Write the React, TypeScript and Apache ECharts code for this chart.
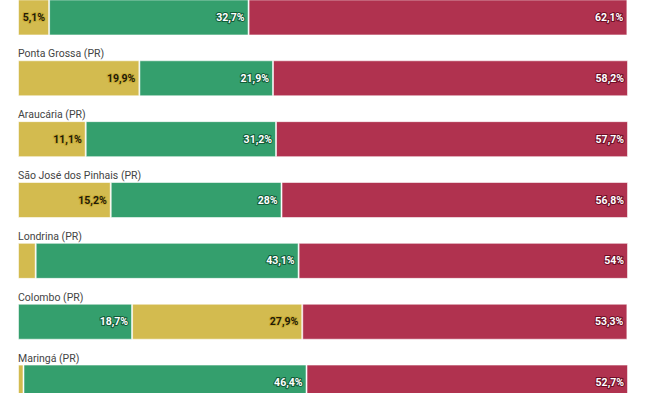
import React, { useEffect, useRef } from "react";
import * as echarts from "echarts";

const categories = [
  "",
  "Ponta Grossa (PR)",
  "Araucária (PR)",
  "São José dos Pinhais (PR)",
  "Londrina (PR)",
  "Colombo (PR)",
  "Maringá (PR)",
];

// segments in stacking order (left to right), with the colour group of each segment
const firstValues = [5.1, 19.9, 11.1, 15.2, 2.9, 18.7, 0.9];
const firstGroups = ["Y", "Y", "Y", "Y", "Y", "G", "Y"];
const secondValues = [32.7, 21.9, 31.2, 28, 43.1, 27.9, 46.4];
const secondGroups = ["G", "G", "G", "G", "G", "Y", "G"];
const thirdValues = [62.1, 58.2, 57.7, 56.8, 54, 53.3, 52.7];
const thirdGroups = ["R", "R", "R", "R", "R", "R", "R"];

const palette: Record<string, { fill: string; text: string; halo: string }> = {
  Y: { fill: "#d3bb4f", text: "#1e1a08", halo: "#c9ac35" },
  G: { fill: "#349f6d", text: "#ffffff", halo: "#125c38" },
  R: { fill: "#b0324f", text: "#ffffff", halo: "#6e0d25" },
};

const fmt = (v: number) => String(v).replace(".", ",") + "%";

function buildSeries(name: string, values: number[], groups: string[]) {
  return {
    name,
    type: "bar",
    stack: "total",
    barWidth: 36,
    data: values.map((v, i) => {
      const p = palette[groups[i]];
      return {
        value: v,
        itemStyle: { color: p.fill },
        label: {
          show: v >= 4,
          color: p.text,
          textBorderColor: p.halo,
          textBorderWidth: 2,
        },
      };
    }),
    itemStyle: { borderColor: "rgba(255,255,255,0.55)", borderWidth: 1 },
    label: {
      position: "insideRight",
      distance: 4,
      fontFamily: "Roboto",
      fontWeight: "bold",
      fontSize: 10.5,
      formatter: (p: any) => fmt(p.value),
    },
  };
}

const TOP_OFFSET = -13.2;
const CHART_HEIGHT = 425.6;

export default function App() {
  const ref = useRef<HTMLDivElement>(null);
  useEffect(() => {
    if (!ref.current) return;
    const chart = echarts.init(ref.current, undefined, { renderer: "svg" });
    chart.setOption({
      animation: false,
      backgroundColor: "#ffffff",
      grid: { left: 18, right: 23, top: 0, bottom: 0, containLabel: false },
      xAxis: {
        type: "value",
        min: 0,
        max: 100,
        show: false,
      },
      yAxis: {
        type: "category",
        inverse: true,
        data: categories,
        axisLine: { show: false },
        axisTick: { show: false },
        splitLine: { show: false },
        axisLabel: {
          inside: true,
          interval: 0,
          margin: 0,
          align: "left",
          verticalAlign: "bottom",
          padding: [0, 0, 19, 0],
          color: "#444444",
          fontFamily: "Roboto",
          fontSize: 10.5,
        },
      },
      series: [
        buildSeries("s1", firstValues, firstGroups),
        buildSeries("s2", secondValues, secondGroups),
        buildSeries("s3", thirdValues, thirdGroups),
      ],
    });
    return () => chart.dispose();
  }, []);
  return (
    <div
      style={{
        position: "fixed",
        left: 0,
        top: 0,
        width: 651,
        height: 393,
        overflow: "hidden",
        background: "#ffffff",
      }}
    >
      <div
        ref={ref}
        style={{ position: "absolute", left: 0, top: TOP_OFFSET, width: 651, height: CHART_HEIGHT }}
      />
    </div>
  );
}
